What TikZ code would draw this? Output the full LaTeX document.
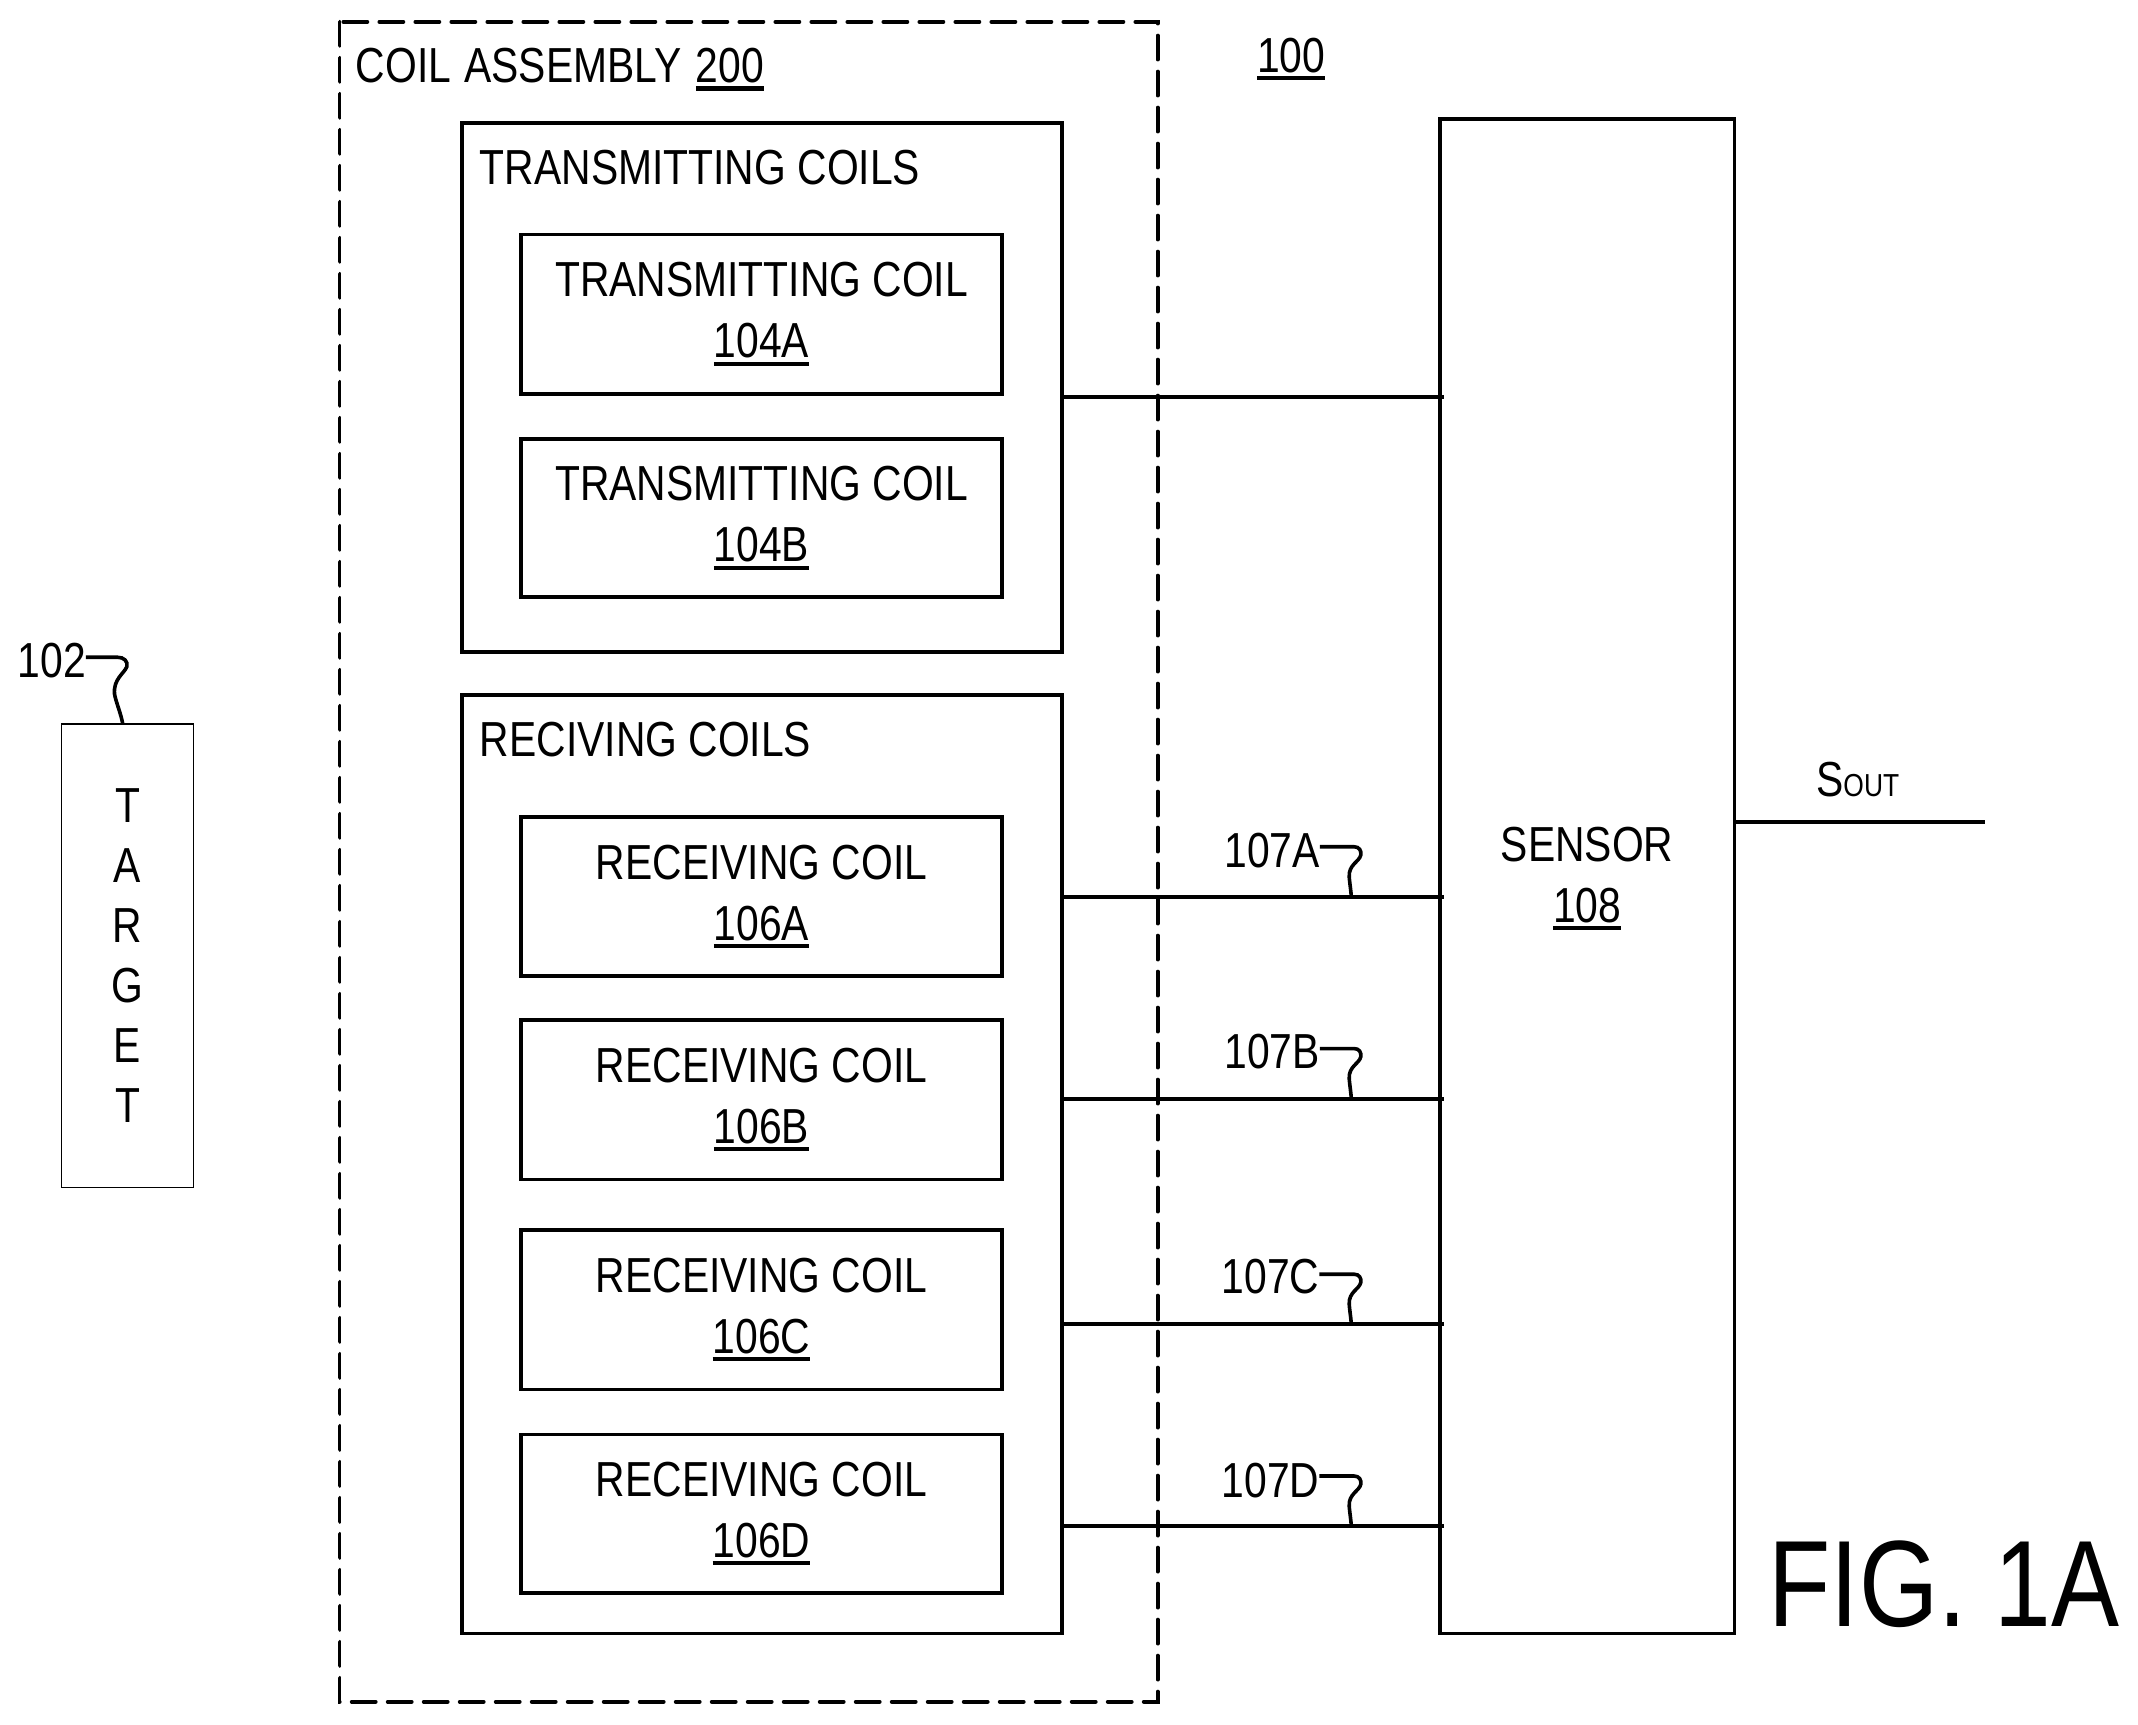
\documentclass[tikz,border=0pt]{standalone}
\usepackage{fontspec}
\setmainfont[FakeStretch=0.83]{Liberation Sans}
\newcommand{\uu}{0.68175pt}
\newcommand{\figtext}{\fontsize{24.6}{30.5}\selectfont}
\newsavebox{\ulsave}
\newcommand{\ul}[1]{\leavevmode\sbox{\ulsave}{#1}\smash{\rlap{\rule[-4pt]{\wd\ulsave}{2.1pt}}}\usebox{\ulsave}}
\newcommand{\ulb}[1]{\ul{#1}\rule[-4pt]{0pt}{4pt}}
\tikzset{
  x=0.68175pt, y=-0.68175pt,
  every node/.style={font=\figtext, text=black, outer sep=0pt},
  solidbox/.style={draw=black, line width=1.9pt, inner sep=0pt, align=center},
  thinbox/.style={draw=black, line width=0.6pt, inner sep=0pt, align=center, font=\fontsize{24.6}{30}\selectfont},
  dashbox/.style={draw=black, line width=1.9pt, line cap=round, dash pattern=on 12pt off 6pt},
  wire/.style={draw=black, line width=1.9pt, shorten >=-2pt},
  lead/.style={draw=black, line width=1.8pt},
  lbl/.style={anchor=base west, inner sep=0pt},
}
\newcommand{\bx}[7]{% name, x1, y1, x2, y2, style, text
  \node[#6, minimum width={(#4-#2)*\uu}, minimum height={(#5-#3)*\uu}] (#1) at ({(#2+#4)/2},{(#3+#5)/2}) {#7};}
\begin{document}
\begin{tikzpicture}
\useasboundingbox (0,0) rectangle (1568,1264.4);
% containers
\draw[dashbox] (249,16) rectangle (849,1248);
\node[lbl] (coilasm) at (261,60.6) {COIL\kern1pt{} ASSEMBLY\kern1.4pt{} \ul{200}};
\node[lbl] (sysref) at (922,53) {\ul{100}};
\bx{txcoils}{339}{90}{779}{478}{solidbox}{}
\node[lbl] (txtitle) at (352,135) {TRANSMITTING COILS};
\bx{t104a}{382}{172}{735}{289}{solidbox}{TRANSMITTING COIL\\\ulb{104A}}
\bx{t104b}{382}{322}{735}{438}{solidbox}{TRANSMITTING COIL\\\ulb{104B}}
\bx{rxcoils}{339}{510}{779}{1198}{solidbox}{}
\node[lbl] (rxtitle) at (352,555) {RECIVING COILS};
\bx{r106a}{382}{599}{735}{716}{solidbox}{RECEIVING COIL\\\ulb{106A}}
\bx{r106b}{382}{748}{735}{865}{solidbox}{RECEIVING COIL\\\ulb{106B}}
\bx{r106c}{382}{902}{735}{1019}{solidbox}{RECEIVING COIL\\\ulb{106C}}
\bx{r106d}{382}{1052}{735}{1168}{solidbox}{RECEIVING COIL\\\ulb{106D}}
\bx{sensor}{1056}{87}{1272}{1198}{solidbox}{SENSOR\\\ul{108}\rule[-1.4pt]{0pt}{1.4pt}}
\bx{target}{45}{531}{142}{871}{thinbox}{T\\A\\R\\G\\E\\T}
% wires
\draw[wire] (txcoils.east |- 0,291) -- (sensor.west |- 0,291);
\draw[wire] (rxcoils.east |- 0,658) -- (sensor.west |- 0,658);
\draw[wire] (rxcoils.east |- 0,806) -- (sensor.west |- 0,806);
\draw[wire] (rxcoils.east |- 0,971) -- (sensor.west |- 0,971);
\draw[wire] (rxcoils.east |- 0,1119) -- (sensor.west |- 0,1119);
\coordinate (sout) at (1456,603);
\draw[wire, shorten >=0pt] (sensor.east |- sout) -- (sout);
% labels
\node[lbl] (l102) at (13,497) {102};
\node[lbl] (l107a) at (898,636) {107A};
\node[lbl] (l107b) at (898,783.5) {107B};
\node[lbl] (l107c) at (896,949) {107C};
\node[lbl] (l107d) at (896,1098) {107D};
\node[lbl] (lsout) at (1332,584.5) {S{\fontsize{15.9}{18}\selectfont OUT}};
\node[lbl, font=\fontsize{61.4}{70}\selectfont] (figlabel) at (1297,1193) {FIG. 1A};
% lead lines
\newcommand{\leadq}[3]{%
  \draw[lead, shift={(#2,#3)}] (#1.east |- 0,0) -- (26,0)
    .. controls (30,0) and (31.5,3) .. (31,6)
    .. controls (30,11) and (22,13) .. (22.5,22)
    .. controls (23,28) and (23.5,30) .. (24,36);}
\leadq{l107a}{967}{621}
\leadq{l107b}{967}{769}
\leadq{l107c}{967}{934.5}
\leadq{l107d}{967}{1082.5}
\draw[lead, shift={(62,482)}] (l102.east |- 0,0) -- (24,0)
    .. controls (29,0) and (32,3) .. (31,7)
    .. controls (29,12) and (21,16) .. (22,27)
    .. controls (23,33) and (27,42) .. (28,49);
\end{tikzpicture}
\end{document}
